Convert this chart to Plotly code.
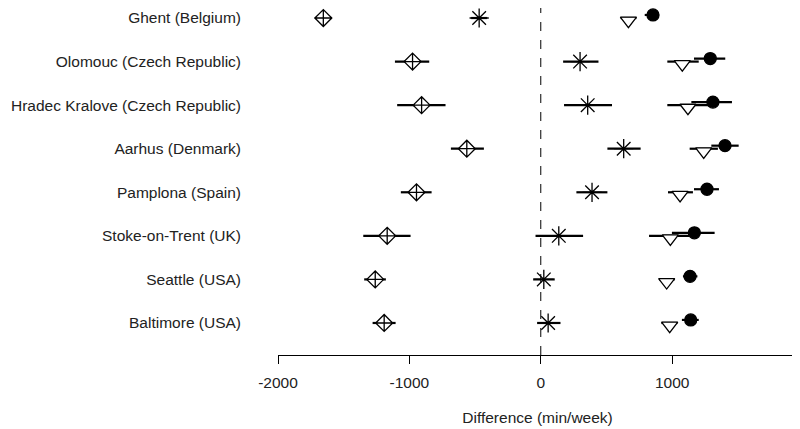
import plotly.graph_objects as go

cities = ["Ghent (Belgium)", "Olomouc (Czech Republic)", "Hradec Kralove (Czech Republic)",
          "Aarhus (Denmark)", "Pamplona (Spain)", "Stoke-on-Trent (UK)",
          "Seattle (USA)", "Baltimore (USA)"]

# diamond-with-cross series
diam_mid = [-1655, -976, -907, -563, -946, -1169, -1260, -1192]
diam_lo = [-1720, -1110, -1093, -684, -1065, -1351, -1344, -1280]
diam_hi = [-1590, -849, -725, -433, -831, -991, -1179, -1105]

# asterisk series
ast_mid = [-469, 299, 357, 631, 390, 137, 23, 56]
ast_lo = [-530, 170, 177, 507, 271, -40, -58, -28]
ast_hi = [-410, 439, 542, 760, 507, 322, 106, 150]

# open triangle series
tri_mid = [667, 1077, 1120, 1240, 1060, 986, 958, 981]
tri_lo = [608, 963, 963, 1133, 968, 824, 900, 918]
tri_hi = [728, 1202, 1336, 1348, 1158, 1133, 1019, 1040]

# filled circle series
circ_mid = [854, 1290, 1310, 1402, 1265, 1169, 1136, 1141]
circ_lo = [791, 1166, 1146, 1298, 1166, 998, 1082, 1074]
circ_hi = [900, 1404, 1455, 1506, 1356, 1323, 1192, 1202]

x_ticks = [-2000, -1000, 0, 1000]
x_ticklabels = ["-2000", "-1000", "0", "1000"]

rows = list(range(len(cities)))

fig = go.Figure()


def add_series(mid, lo, hi, symbol, size, bar_off, mark_off, fill="white"):
    xs, ys = [], []
    for r, a, b in zip(rows, lo, hi):
        xs += [a, b, None]
        ys += [r + bar_off, r + bar_off, None]
    fig.add_trace(go.Scatter(x=xs, y=ys, mode="lines",
                             line=dict(color="black", width=2.2),
                             showlegend=False, hoverinfo="skip"))
    fig.add_trace(go.Scatter(x=mid, y=[r + mark_off for r in rows], mode="markers",
                             marker=dict(symbol=symbol, size=size, color=fill,
                                         line=dict(color="black", width=1.3)),
                             showlegend=False))


add_series(diam_mid, diam_lo, diam_hi, "diamond-cross", 13, 0, 0)
add_series(ast_mid, ast_lo, ast_hi, "asterisk-open", 16, 0, 0, fill="black")
add_series(tri_mid, tri_lo, tri_hi, "triangle-down", 14, 0, 0.06)
add_series(circ_mid, circ_lo, circ_hi, "circle", 12, -0.07, -0.07, fill="black")

fig.add_shape(type="line", x0=0, x1=0, y0=0, y1=1, xref="x", yref="paper",
              line=dict(color="black", width=1, dash="dash"))

# page has an 8px body margin, so the figure is sized to fit inside it
fig.update_layout(
    width=792, height=421,
    plot_bgcolor="white", paper_bgcolor="white",
    margin=dict(l=270, r=3, t=0, b=74),
    font=dict(family="Liberation Sans, Arial, sans-serif", size=15.5, color="#222"),
    xaxis=dict(range=[-2000, 1950], tickvals=x_ticks, ticktext=x_ticklabels,
               showgrid=False, zeroline=False, showline=True, linecolor="black",
               linewidth=1, ticks="outside", ticklen=8, tickcolor="black",
               automargin=False, ticklabelstandoff=5,
               title=dict(text="Difference (min/week)", standoff=22,
                          font=dict(size=15.5))),
    yaxis=dict(range=[7.735, -0.23], tickvals=rows, ticktext=cities,
               showgrid=False, zeroline=False, showline=False, ticks="",
               automargin=False, ticklabelstandoff=36),
)

fig.write_html("out.html")
